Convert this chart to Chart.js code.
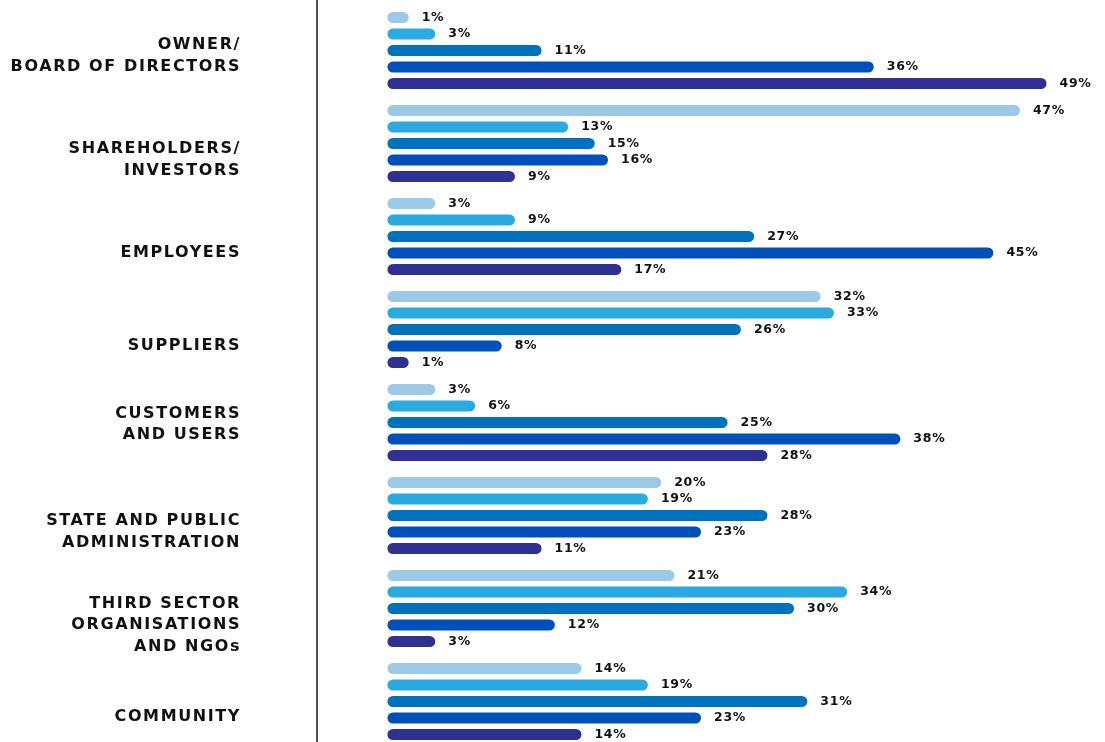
<!DOCTYPE html>
<html>
<head>
<meta charset="utf-8">
<script src="https://cdn.jsdelivr.net/npm/chart.js@4"></script>
<style>
  html, body { margin: 0; padding: 0; background: #fff; overflow: hidden; }
  #wrap { width: 1105px; height: 748px; }
</style>
</head>
<body>
<div id="wrap"><canvas id="myChart" width="1105" height="748"></canvas></div>
<script>
// Stakeholder groups (multi-line labels)
const categories = [
  ['OWNER/', 'BOARD OF DIRECTORS'],
  ['SHAREHOLDERS/', 'INVESTORS'],
  ['EMPLOYEES'],
  ['SUPPLIERS'],
  ['CUSTOMERS', 'AND USERS'],
  ['STATE AND PUBLIC', 'ADMINISTRATION'],
  ['THIRD SECTOR', 'ORGANISATIONS', 'AND NGOs'],
  ['COMMUNITY']
];

// One array per bar within each group (percent)
const level1 = [1, 47, 3, 32, 3, 20, 21, 14];
const level2 = [3, 13, 9, 33, 6, 19, 34, 19];
const level3 = [11, 15, 27, 26, 25, 28, 30, 31];
const level4 = [36, 16, 45, 8, 38, 23, 12, 23];
const level5 = [49, 9, 17, 1, 28, 11, 3, 14];

const colors = ['#9cc9e5', '#29abe2', '#0071bc', '#0050bb', '#2e3192'];

// vertical nudge of each category label relative to its bar group
const labelShift = [5.5, 16.5, 16.5, 16.5, 2, 16.5, 16.5, 15.5];

const labelFont = 'bold 16px "DejaVu Sans"';
const valueFont = 'bold 12.5px "DejaVu Sans"';

const sideLabels = {
  id: 'sideLabels',
  afterDraw(chart) {
    const { ctx, chartArea, scales } = chart;
    ctx.save();

    // axis line down the whole height
    ctx.strokeStyle = '#1a1a1a';
    ctx.lineWidth = 1.5;
    ctx.beginPath();
    ctx.moveTo(chartArea.left, 0);
    ctx.lineTo(chartArea.left, chart.height);
    ctx.stroke();

    // category names, right aligned
    ctx.fillStyle = '#111';
    ctx.font = labelFont;
    ctx.letterSpacing = '1.6px';
    ctx.textAlign = 'right';
    ctx.textBaseline = 'middle';
    const lineH = 21.5;
    categories.forEach((lines, i) => {
      const cy = scales.y.getPixelForValue(i) + labelShift[i];
      const top = cy - (lines.length - 1) * lineH / 2;
      lines.forEach((t, j) => ctx.fillText(t, 241, top + j * lineH));
    });
    ctx.restore();
  },
  afterDatasetsDraw(chart) {
    const { ctx } = chart;
    ctx.save();
    ctx.fillStyle = '#111';
    ctx.font = valueFont;
    ctx.letterSpacing = '0.7px';
    ctx.textAlign = 'left';
    ctx.textBaseline = 'middle';
    chart.data.datasets.forEach((ds, d) => {
      chart.getDatasetMeta(d).data.forEach((bar, i) => {
        ctx.fillText(ds.data[i] + '%', bar.x + 13, bar.y);
      });
    });
    ctx.restore();
  }
};

const series = [level1, level2, level3, level4, level5];

new Chart(document.getElementById('myChart').getContext('2d'), {
  type: 'bar',
  data: {
    labels: categories.map(l => l.join(' ')),
    datasets: series.map((vals, k) => ({
      data: vals,
      base: -0.6,
      backgroundColor: colors[k],
      borderRadius: 6,
      borderSkipped: false,
      barPercentage: 0.67,
      categoryPercentage: 0.888
    }))
  },
  options: {
    indexAxis: 'y',
    responsive: false,
    animation: false,
    layout: { padding: { left: 317, top: 4, right: 0, bottom: 0 } },
    plugins: {
      legend: { display: false },
      tooltip: { enabled: false }
    },
    scales: {
      x: { type: 'linear', min: -5.9, max: 53.4, display: false },
      y: { display: false }
    }
  },
  plugins: [sideLabels]
});
</script>
</body>
</html>
